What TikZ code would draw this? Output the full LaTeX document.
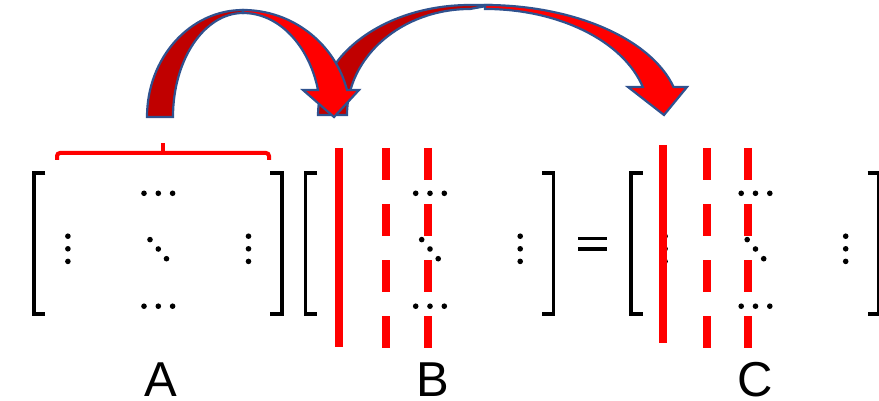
\documentclass[tikz,border=0pt]{standalone}
\usepackage{fontspec}
\setmainfont{Liberation Sans}
\definecolor{backred}{HTML}{C00000}
\definecolor{frontred}{HTML}{FF0000}
\definecolor{arrowedge}{HTML}{2F528F}

% one matrix: brackets and dot pattern around column centre #1
\newcommand\matbody[1]{%
  \draw[bracket] (#1-113,173) -- (#1-124.5,173) -- (#1-124.5,314) -- (#1-113,314);
  \draw[bracket] (#1+112,173) -- (#1+123.5,173) -- (#1+123.5,314) -- (#1+112,314);
  \foreach \dx in {-14.3,0,14.3} {
    \fill (#1+\dx,193.3) circle[radius=2.8];
    \fill (#1+\dx,306.2) circle[radius=2.8];
  }
  \foreach \dy in {236.2,248.8,261.4} {
    \fill (#1-90.4,\dy) circle[radius=2.8];
    \fill (#1+90.2,\dy) circle[radius=2.8];
  }
  \fill (#1-8.3,239.6) circle[radius=2.8];
  \fill (#1,249) circle[radius=2.8];
  \fill (#1+8.2,258.7) circle[radius=2.8];
}

\begin{document}
\begin{tikzpicture}[x=1pt,y=-1pt,
  bracket/.style={line width=3.5pt},
  colsolid/.style={draw=frontred, line width=8pt},
  coldash/.style={draw=frontred, line width=8pt, dash pattern=on 32pt off 24pt},
  arrowback/.style={fill=backred, draw=arrowedge, line width=2.2pt},
  arrowfront/.style={fill=frontred, draw=arrowedge, line width=2.2pt},
  caption/.style={font=\fontsize{49}{50}\selectfont, anchor=base, inner sep=0pt}]
\useasboundingbox (0,0) rectangle (879,401);

% the three matrices
\matbody{158.3}
\matbody{430}
\matbody{755.5}

% equals sign
\draw[line width=3.5pt] (578,238.7) -- (607,238.7);
\draw[line width=3.5pt] (578,249.2) -- (607,249.2);

% highlighted columns of B
\draw[colsolid] (339,148) -- (339,347);
\draw[coldash] (386,148) -- (386,348);
\draw[coldash] (427.5,148) -- (427.5,348);

% highlighted columns of C
\draw[colsolid] (663,145) -- (663,343);
\draw[coldash] (707,148) -- (707,348);
\draw[coldash] (748,148) -- (748,348);

% brace over a row of A
\draw[draw=frontred, line width=4pt, rounded corners=3pt]
  (57,160) -- (57,153) -- (269,153) -- (269,160);
\draw[draw=frontred, line width=4pt] (163,153) -- (163,143);

% curved arrow from B to C
\draw[arrowback] (318,115) arc[start angle=180, end angle=270, x radius=152, y radius=110]
  -- (492,5) -- (470,9)
  arc[start angle=270, end angle=180, x radius=123, y radius=106] -- cycle;
\draw[arrowfront] (485,5) arc[start angle=-90, end angle=-14.75, x radius=195, y radius=110]
  -- (687,87) -- (664,115) -- (628,87) -- (642.8,87)
  arc[start angle=-15.3, end angle=-90, x radius=163.6, y radius=106] -- cycle;

% curved arrow from A to B
\draw[arrowback] (147,117) arc[start angle=180, end angle=270, x radius=96, y radius=107]
  -- (243,13)
  arc[start angle=270, end angle=180, x radius=70, y radius=104] -- cycle;
\draw[arrowfront] (243,10) arc[start angle=-90, end angle=-14.6, x radius=107.5, y radius=107]
  -- (359,90) -- (334,117) -- (303,90) -- (318,90)
  arc[start angle=-15.05, end angle=-90, x radius=77.6, y radius=104] -- cycle;

% matrix names
\node[caption] (labA) at (160.5,396) {A};
\node[caption] (labB) at (432.5,396) {B};
\node[caption] (labC) at (755,396) {C};
\end{tikzpicture}
\end{document}
